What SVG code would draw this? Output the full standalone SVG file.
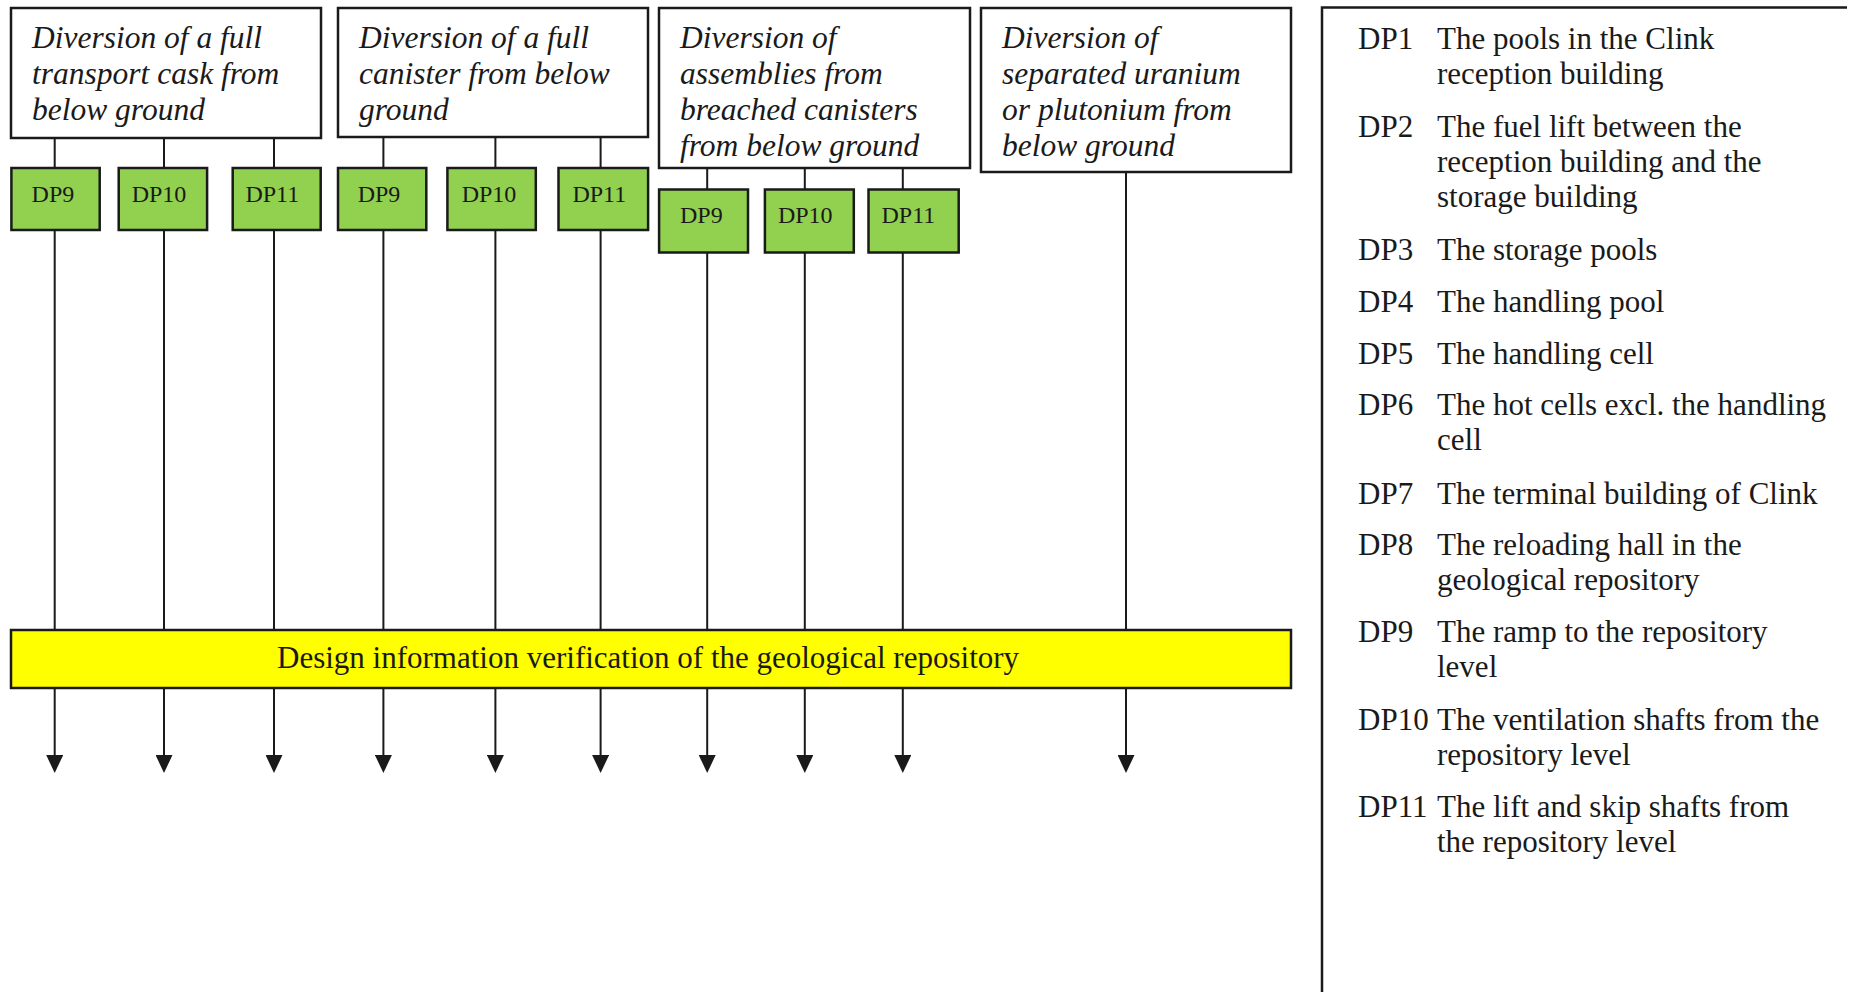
<svg xmlns="http://www.w3.org/2000/svg" width="1852" height="992" viewBox="0 0 1852 992">
<defs>
<style>
.box{fill:#fff;stroke:#1a1a1a;stroke-width:2.5}
.dp{fill:#92D050;stroke:#1a1a1a;stroke-width:2.5}
.bar{fill:#FFFF00;stroke:#1a1a1a;stroke-width:2.5}
.ttl{font-family:"Liberation Serif","Times New Roman",serif;font-style:italic;font-size:31.5px;fill:#1a1a1a}
.dpt{font-family:"Liberation Serif","Times New Roman",serif;font-size:24px;fill:#1a1a1a}
.bt{font-family:"Liberation Serif","Times New Roman",serif;font-size:31px;fill:#1a1a1a}
.lg{font-family:"Liberation Serif","Times New Roman",serif;font-size:31px;fill:#1a1a1a}
.ln{stroke:#1a1a1a;stroke-width:2;fill:none}
.ar{stroke:#1a1a1a;stroke-width:2;fill:none;marker-end:url(#ah)}
</style>
<marker id="ah" markerUnits="userSpaceOnUse" markerWidth="18" markerHeight="17" refX="4" refY="8.5" orient="auto">
<path d="M0,0 L18,8.5 L0,17 z" fill="#1a1a1a"/>
</marker>
</defs>
<rect width="1852" height="992" fill="#fff"/>

<g id="connectors">
<path class="ln" d="M54.7,138 V168 M164,138 V168 M274,138 V168 M383.4,137 V168 M495.4,137 V168 M600.6,137 V168 M707.2,168 V189.5 M804.8,168 V189.5 M902.8,168 V189.5"/>
<path class="ln" d="M54.7,230 V630 M164,230 V630 M274,230 V630 M383.4,230 V630 M495.4,230 V630 M600.6,230 V630 M707.2,252.5 V630 M804.8,252.5 V630 M902.8,252.5 V630 M1126,172 V630"/>
<line class="ar" x1="54.7" y1="688" x2="54.7" y2="759"/>
<line class="ar" x1="164" y1="688" x2="164" y2="759"/>
<line class="ar" x1="274" y1="688" x2="274" y2="759"/>
<line class="ar" x1="383.4" y1="688" x2="383.4" y2="759"/>
<line class="ar" x1="495.4" y1="688" x2="495.4" y2="759"/>
<line class="ar" x1="600.6" y1="688" x2="600.6" y2="759"/>
<line class="ar" x1="707.2" y1="688" x2="707.2" y2="759"/>
<line class="ar" x1="804.8" y1="688" x2="804.8" y2="759"/>
<line class="ar" x1="902.8" y1="688" x2="902.8" y2="759"/>
<line class="ar" x1="1126" y1="688" x2="1126" y2="759"/>
</g>

<g id="box1">
<rect class="box" x="11" y="8" width="310" height="130"/>
<text class="ttl" x="32" y="47.5">Diversion of a full</text>
<text class="ttl" x="32" y="83.5">transport cask from</text>
<text class="ttl" x="32" y="119.5">below ground</text>
</g>
<g id="box2">
<rect class="box" x="338" y="8" width="310" height="129"/>
<text class="ttl" x="359" y="47.5">Diversion of a full</text>
<text class="ttl" x="359" y="83.5">canister from below</text>
<text class="ttl" x="359" y="119.5">ground</text>
</g>
<g id="box3">
<rect class="box" x="659" y="8" width="311" height="160"/>
<text class="ttl" x="680" y="47.5">Diversion of</text>
<text class="ttl" x="680" y="83.5">assemblies from</text>
<text class="ttl" x="680" y="119.5">breached canisters</text>
<text class="ttl" x="680" y="155.5">from below ground</text>
</g>
<g id="box4">
<rect class="box" x="981" y="8" width="310" height="164"/>
<text class="ttl" x="1002" y="47.5">Diversion of</text>
<text class="ttl" x="1002" y="83.5">separated uranium</text>
<text class="ttl" x="1002" y="119.5">or plutonium from</text>
<text class="ttl" x="1002" y="155.5">below ground</text>
</g>

<g id="dp9a"><rect class="dp" x="11.4" y="168" width="88.3" height="62"/><text class="dpt" x="31.6" y="202">DP9</text></g>
<g id="dp10a"><rect class="dp" x="118.7" y="168" width="88.4" height="62"/><text class="dpt" x="131.7" y="202">DP10</text></g>
<g id="dp11a"><rect class="dp" x="232.7" y="168" width="88" height="62"/><text class="dpt" x="245.4" y="202">DP11</text></g>
<g id="dp9b"><rect class="dp" x="338" y="168" width="88.3" height="62"/><text class="dpt" x="357.7" y="202">DP9</text></g>
<g id="dp10b"><rect class="dp" x="447.4" y="168" width="88.4" height="62"/><text class="dpt" x="461.7" y="202">DP10</text></g>
<g id="dp11b"><rect class="dp" x="558.5" y="168" width="89.6" height="62"/><text class="dpt" x="572.4" y="202">DP11</text></g>
<g id="dp9c"><rect class="dp" x="659.1" y="189.5" width="88.9" height="63"/><text class="dpt" x="680" y="223">DP9</text></g>
<g id="dp10c"><rect class="dp" x="764.9" y="189.5" width="88.9" height="63"/><text class="dpt" x="777.9" y="223">DP10</text></g>
<g id="dp11c"><rect class="dp" x="868.5" y="189.5" width="90.2" height="63"/><text class="dpt" x="881.5" y="223">DP11</text></g>

<g id="bar">
<rect class="bar" x="11" y="630" width="1280" height="58"/>
<text class="bt" x="277" y="668">Design information verification of the geological repository</text>
</g>

<g id="legend">
<path d="M1322,992 V7.5 H1847" fill="none" stroke="#1a1a1a" stroke-width="2.5"/>
<g class="lg" transform="translate(0,2)">
<text x="1358" y="46.7">DP1</text><text x="1437" y="46.7">The pools in the Clink</text><text x="1437" y="82">reception building</text>
<text x="1358" y="135">DP2</text><text x="1437" y="135">The fuel lift between the</text><text x="1437" y="170">reception building and the</text><text x="1437" y="205">storage building</text>
<text x="1358" y="258.3">DP3</text><text x="1437" y="258.3">The storage pools</text>
<text x="1358" y="310">DP4</text><text x="1437" y="310">The handling pool</text>
<text x="1358" y="361.7">DP5</text><text x="1437" y="361.7">The handling cell</text>
<text x="1358" y="413.3">DP6</text><text x="1437" y="413.3">The hot cells excl. the handling</text><text x="1437" y="448.3">cell</text>
<text x="1358" y="501.7">DP7</text><text x="1437" y="501.7">The terminal building of Clink</text>
<text x="1358" y="553.3">DP8</text><text x="1437" y="553.3">The reloading hall in the</text><text x="1437" y="588.3">geological repository</text>
<text x="1358" y="640">DP9</text><text x="1437" y="640">The ramp to the repository</text><text x="1437" y="675">level</text>
<text x="1358" y="728.3">DP10</text><text x="1437" y="728.3">The ventilation shafts from the</text><text x="1437" y="763.3">repository level</text>
<text x="1358" y="815">DP11</text><text x="1437" y="815">The lift and skip shafts from</text><text x="1437" y="850">the repository level</text>
</g>
</g>
</svg>
